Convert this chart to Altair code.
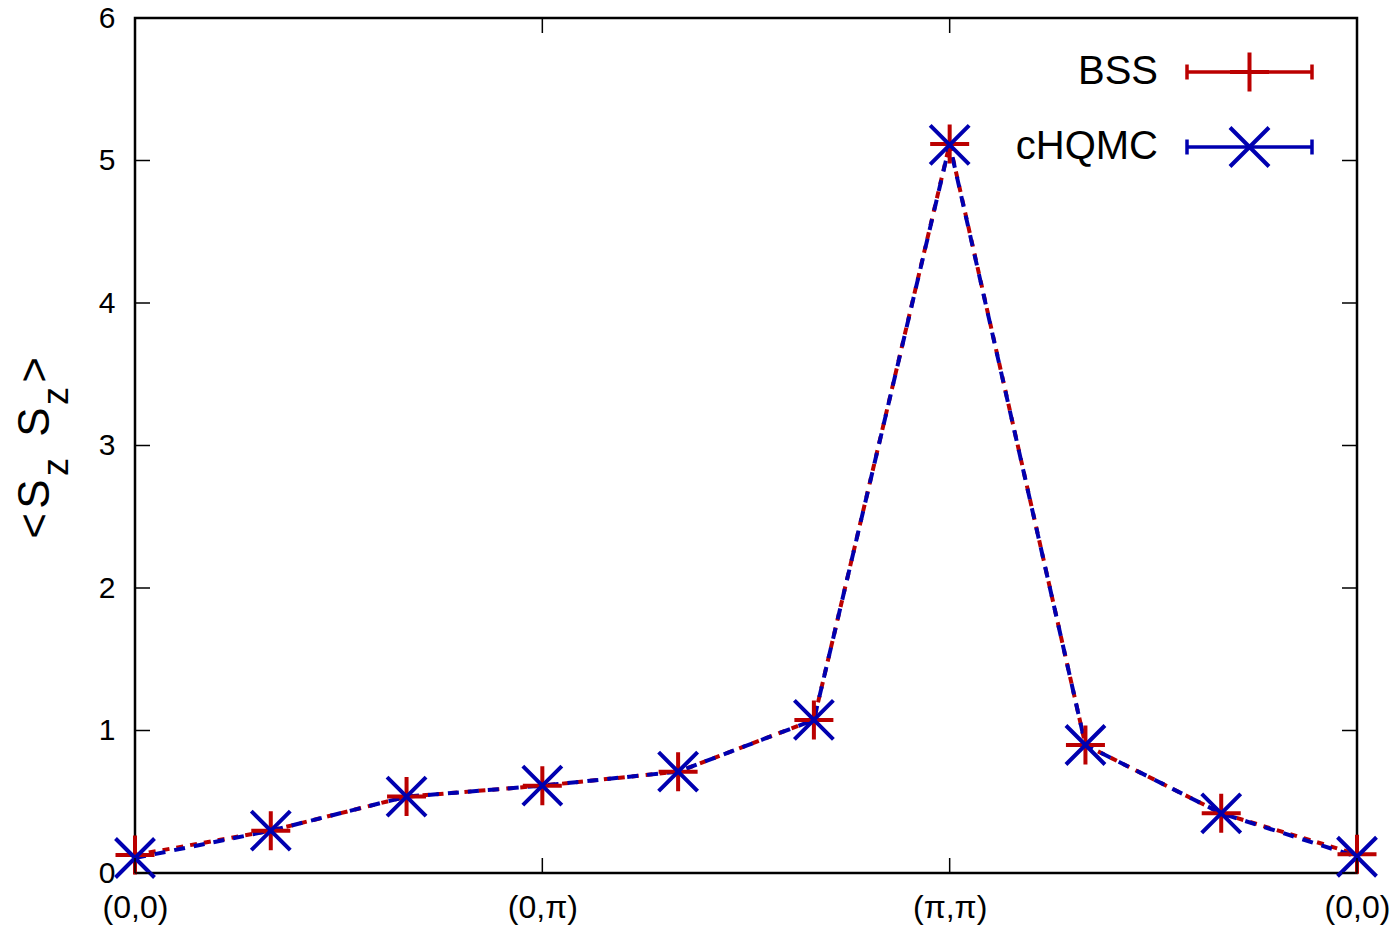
import altair as alt
import pandas as pd

# ---- data ----
k_index = [0, 1, 2, 3, 4, 5, 6, 7, 8, 9]
bss_values = [0.126, 0.297, 0.536, 0.613, 0.711, 1.074, 5.116, 0.898, 0.419, 0.131]
chqmc_values = [0.105, 0.297, 0.536, 0.613, 0.711, 1.074, 5.110, 0.898, 0.419, 0.114]
x_tick_pos = [0, 3, 6, 9]
x_tick_labels = ["(0,0)", "(0,π)", "(π,π)", "(0,0)"]
y_ticks = [0, 1, 2, 3, 4, 5, 6]
series_names = ["BSS", "cHQMC"]

W, H = 1222, 855
RED = "#bb0000"
BLUE = "#0000b0"
FONT = "Liberation Sans"
PLUS = "M-1,0L1,0M0,-1L0,1"
XSHAPE = "M-1,-1L1,1M-1,1L1,-1"

df_bss = pd.DataFrame({"k": k_index, "v": bss_values})
df_ch = pd.DataFrame({"k": k_index, "v": chqmc_values})
df_xt = pd.DataFrame({"k": x_tick_pos})
df_yt = pd.DataFrame({"v": y_ticks})
one = pd.DataFrame({"d": [0]})

xscale = alt.Scale(domain=[0, 9], nice=False)
yscale = alt.Scale(domain=[0, 6], nice=False)

label_expr = "[" + ",".join("'" + s + "'" for s in x_tick_labels) + "][round(datum.value/3)]"

xaxis = alt.Axis(values=x_tick_pos, labelExpr=label_expr, ticks=False, domain=False,
                 grid=False, title=None, labelFontSize=32, labelFont=FONT, labelColor="black",
                 labelPadding=19, labelFlush=False, labelOverlap=False, labelBound=False)
yaxis = alt.Axis(values=y_ticks, ticks=False, domain=False, grid=False, title=None,
                 labelFontSize=30, labelFont=FONT, labelColor="black", labelPadding=20,
                 labelFlush=False, labelOverlap=False, labelBound=False)


def X(field):
    return alt.X(field, scale=xscale, axis=xaxis)


def Y(field):
    return alt.Y(field, scale=yscale, axis=yaxis)


bss_line = alt.Chart(df_bss).mark_line(color=RED, strokeWidth=4, strokeDash=[7, 7]).encode(
    x=X("k:Q"), y=Y("v:Q"))
bss_pts = alt.Chart(df_bss).mark_point(shape=PLUS, size=1521, stroke=RED, strokeWidth=4,
                                       filled=False, opacity=1).encode(x=X("k:Q"), y=Y("v:Q"))
ch_line = alt.Chart(df_ch).mark_line(color=BLUE, strokeWidth=4, strokeDash=[11, 9]).encode(
    x=X("k:Q"), y=Y("v:Q"))
ch_pts = alt.Chart(df_ch).mark_point(shape=XSHAPE, size=1521, stroke=BLUE, strokeWidth=4,
                                     filled=False, opacity=1).encode(x=X("k:Q"), y=Y("v:Q"))

# inward ticks (gnuplot style, mirrored)
TL = 15
tick_style = dict(color="black", strokeWidth=1.5)
yt_left = alt.Chart(df_yt).mark_rule(**tick_style).encode(
    y=Y("v:Q"), x=alt.value(0), x2=alt.value(TL))
yt_right = alt.Chart(df_yt).mark_rule(**tick_style).encode(
    y=Y("v:Q"), x=alt.value(W - TL), x2=alt.value(W))
xt_bot = alt.Chart(df_xt).mark_rule(**tick_style).encode(
    x=X("k:Q"), y=alt.value(H), y2=alt.value(H - TL))
xt_top = alt.Chart(df_xt).mark_rule(**tick_style).encode(
    x=X("k:Q"), y=alt.value(0), y2=alt.value(TL))

# legend (drawn by hand, gnuplot style)
legend_layers = []
leg_rows = [(series_names[0], RED, PLUS, 54, 66), (series_names[1], BLUE, XSHAPE, 129, 141)]
lx1, lx2, lxm, ltx = 1052, 1177, 1114.5, 1023
for name, col, shp, ly, lty in leg_rows:
    legend_layers.append(alt.Chart(one).mark_text(text=name, font=FONT, fontSize=40,
                                                  align="right", baseline="alphabetic",
                                                  color="black").encode(
        x=alt.value(ltx), y=alt.value(lty)))
    legend_layers.append(alt.Chart(one).mark_rule(color=col, strokeWidth=3.5).encode(
        x=alt.value(lx1), x2=alt.value(lx2), y=alt.value(ly)))
    for cx in (lx1, lx2):
        legend_layers.append(alt.Chart(one).mark_rule(color=col, strokeWidth=3.5).encode(
            x=alt.value(cx), y=alt.value(ly - 7.5), y2=alt.value(ly + 7.5)))
    legend_layers.append(alt.Chart(one).mark_point(shape=shp, size=1521, stroke=col,
                                                   strokeWidth=4, filled=False, opacity=1).encode(
        x=alt.value(lxm), y=alt.value(ly)))

# y title "<S_z S_z>" built from pieces (rotated, with subscripts)
title_parts = [("<", 508, 44, -86), ("S", 476, 44, -86), ("z", 449, 36, -67),
               ("S", 404, 44, -86), ("z", 378, 36, -67), (">", 352, 44, -86)]
title_layers = []
for txt, ty, fs, tx in title_parts:
    title_layers.append(alt.Chart(one).mark_text(text=txt, font=FONT, fontSize=fs, angle=270,
                                                 align="center", baseline="alphabetic",
                                                 color="black").encode(
        x=alt.value(tx), y=alt.value(ty)))

chart = alt.layer(
    bss_line, ch_line, bss_pts, ch_pts,
    yt_left, yt_right, xt_bot, xt_top,
    *legend_layers, *title_layers,
).properties(
    width=W, height=H,
    padding={"left": 135, "top": 18, "right": 39, "bottom": 58},
    autosize=alt.AutoSizeParams(type="none"),
    background="white",
).configure_view(stroke="black", strokeWidth=2.5)

chart.save("out.html", embed_options={"renderer": "svg", "actions": False})
